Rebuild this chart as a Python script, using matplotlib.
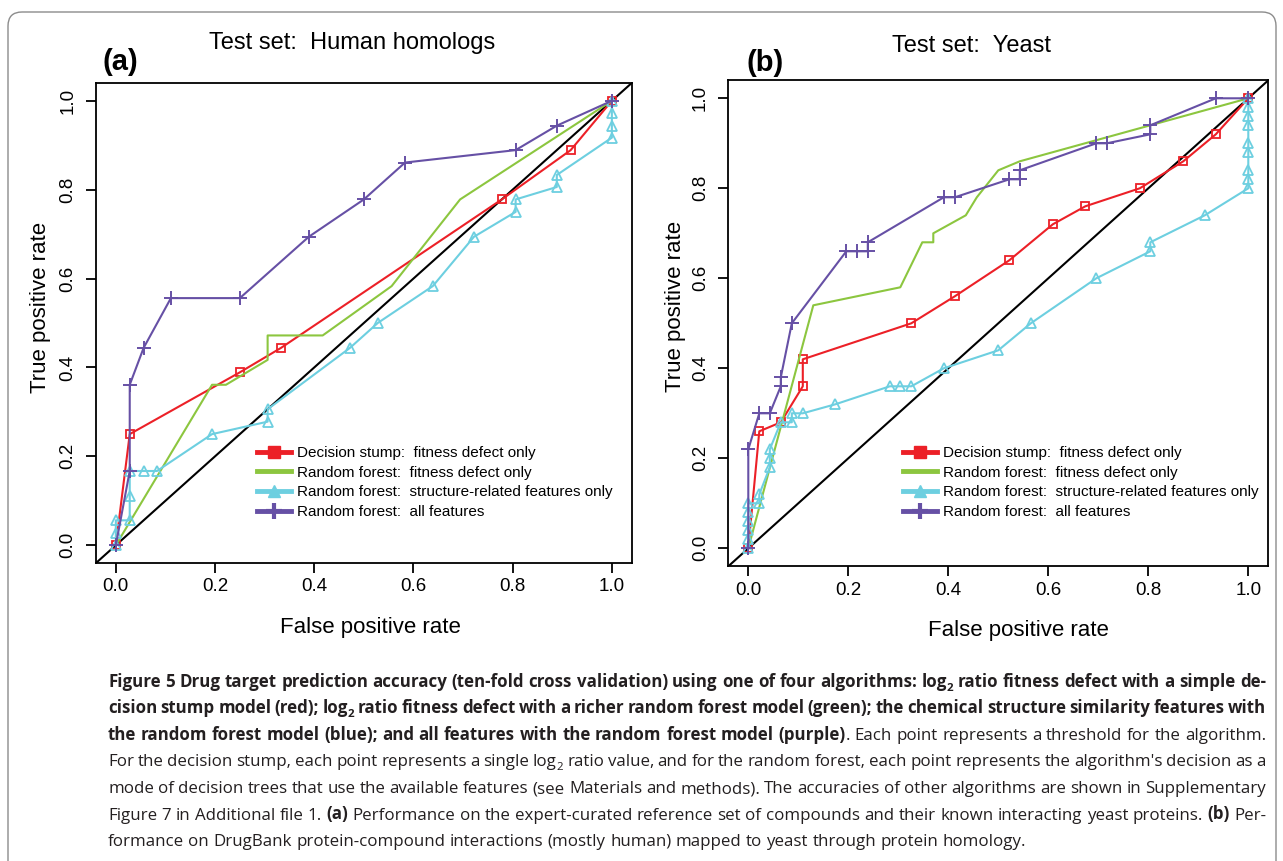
import matplotlib
matplotlib.use('Agg')
import matplotlib.pyplot as plt
from matplotlib.lines import Line2D
from matplotlib.patches import FancyBboxPatch
from matplotlib.transforms import IdentityTransform

plt.rcParams['font.family'] = ['Liberation Sans', 'DejaVu Sans']

W, H = 1283, 861

# ---- panel (a): human homologs (ROC points)
a_red_x = [0, 0.028, 0.250, 0.333, 0.778, 0.917, 1.0]
a_red_y = [0, 0.250, 0.389, 0.444, 0.778, 0.889, 1.0]
a_green_x = [0, 0.194, 0.222, 0.306, 0.306, 0.417, 0.556, 0.694, 1.0]
a_green_y = [0, 0.361, 0.361, 0.417, 0.472, 0.472, 0.583, 0.778, 1.0]
a_cyan_x = [0, 0, 0, 0.028, 0.028, 0.028, 0.056, 0.083, 0.194, 0.306, 0.306, 0.472,
            0.528, 0.639, 0.722, 0.806, 0.806, 0.889, 0.889, 1, 1, 1, 1]
a_cyan_y = [0, 0.028, 0.056, 0.056, 0.111, 0.167, 0.167, 0.167, 0.250, 0.278, 0.306, 0.444,
            0.500, 0.583, 0.694, 0.750, 0.778, 0.806, 0.833, 0.917, 0.944, 0.972, 1.0]
a_purple_x = [0, 0.028, 0.028, 0.056, 0.111, 0.250, 0.389, 0.500, 0.583, 0.806, 0.889, 1.0]
a_purple_y = [0, 0.167, 0.361, 0.444, 0.556, 0.556, 0.694, 0.778, 0.861, 0.889, 0.944, 1.0]

# ---- panel (b): yeast
b_red_x = [0, 0.022, 0.065, 0.109, 0.109, 0.326, 0.413, 0.522, 0.609, 0.674, 0.783, 0.870, 0.935, 1.0]
b_red_y = [0, 0.26, 0.28, 0.36, 0.42, 0.50, 0.56, 0.64, 0.72, 0.76, 0.80, 0.86, 0.92, 1.0]
b_green_x = [0, 0.130, 0.304, 0.348, 0.370, 0.370, 0.435, 0.457, 0.500, 0.543, 0.804, 1.0]
b_green_y = [0, 0.54, 0.58, 0.68, 0.68, 0.70, 0.74, 0.78, 0.84, 0.86, 0.94, 1.0]
b_cyan_x = [0, 0, 0, 0, 0, 0, 0.022, 0.022, 0.043, 0.043, 0.043, 0.065, 0.087, 0.087, 0.109,
            0.174, 0.283, 0.304, 0.326, 0.391, 0.500, 0.565, 0.696, 0.804, 0.804, 0.913,
            1, 1, 1, 1, 1, 1, 1, 1, 1]
b_cyan_y = [0, 0.02, 0.04, 0.06, 0.08, 0.10, 0.10, 0.12, 0.18, 0.20, 0.22, 0.28, 0.28, 0.30, 0.30,
            0.32, 0.36, 0.36, 0.36, 0.40, 0.44, 0.50, 0.60, 0.66, 0.68, 0.74,
            0.80, 0.82, 0.84, 0.88, 0.90, 0.94, 0.96, 0.98, 1.0]
b_purple_x = [0, 0, 0.022, 0.043, 0.065, 0.065, 0.087, 0.196, 0.217, 0.239, 0.239, 0.391,
              0.413, 0.522, 0.543, 0.543, 0.696, 0.717, 0.804, 0.804, 0.935, 1.0]
b_purple_y = [0, 0.22, 0.30, 0.30, 0.36, 0.38, 0.50, 0.66, 0.66, 0.66, 0.68, 0.78,
              0.78, 0.82, 0.82, 0.84, 0.90, 0.90, 0.92, 0.94, 1.0, 1.0]

ticks = [0.0, 0.2, 0.4, 0.6, 0.8, 1.0]
tick_labels = ['0.0', '0.2', '0.4', '0.6', '0.8', '1.0']
legend_labels = ['Decision stump:  fitness defect only',
                 'Random forest:  fitness defect only',
                 'Random forest:  structure-related features only',
                 'Random forest:  all features']

RED = '#ec2027'
GREEN = '#8cc63f'
CYAN = '#6dcfe0'
PURPLE = '#6650a5'


def fx(px):
    return px / W


def fy(py):
    return 1 - py / H


fig = plt.figure(figsize=(W / 100, H / 100), dpi=100)

# rounded frame around the figure
frame = FancyBboxPatch((8, -40), 1268, H - 12 + 40, boxstyle='round,pad=0,rounding_size=14',
                       transform=IdentityTransform(), fill=False, ec='#8c8c8c', lw=1.0)
fig.add_artist(frame)


def panel(rect, red, green, cyan, purple, leg_xy, xlab_xy, ylab_xy):
    ax = fig.add_axes(rect)
    ax.axline((0, 0), (1, 1), color='black', lw=1.5)
    ax.plot(red[0], red[1], color=RED, lw=1.5, marker='s', ms=5.8, mfc='none', mew=1.3)
    ax.plot(green[0], green[1], color=GREEN, lw=1.5)
    ax.plot(cyan[0], cyan[1], color=CYAN, lw=1.5, marker='^', ms=7, mfc='none', mew=1.3)
    ax.plot(purple[0], purple[1], color=PURPLE, lw=1.5, marker='+', ms=10, mew=1.4)
    ax.set_xlim(-0.04, 1.04)
    ax.set_ylim(-0.04, 1.04)
    ax.set_xticks(ticks, tick_labels)
    ax.set_yticks(ticks, tick_labels)
    for s in ax.spines.values():
        s.set_linewidth(1.3)
    ax.tick_params(direction='out', length=7, width=1.3, labelsize=13.5)
    ax.tick_params(axis='x', pad=4)
    ax.tick_params(axis='y', pad=7)
    for lab in ax.get_yticklabels():
        lab.set_rotation(90)
        lab.set_va('center')
    ax.set_xlabel('False positive rate', fontsize=16)
    ax.xaxis.label.set_va('center')
    ax.xaxis.set_label_coords(*xlab_xy)
    ax.set_ylabel('True positive rate', fontsize=16)
    ax.yaxis.label.set_va('center')
    ax.yaxis.set_label_coords(*ylab_xy)

    handles = [
        Line2D([], [], color=RED, lw=3.5, marker='s', ms=8),
        Line2D([], [], color=GREEN, lw=3.5),
        Line2D([], [], color=CYAN, lw=3.5, marker='^', ms=9),
        Line2D([], [], color=PURPLE, lw=3.5, marker='+', ms=12, mew=3),
    ]
    ax.legend(handles, legend_labels, loc='upper left', bbox_to_anchor=(fx(leg_xy[0]), fy(leg_xy[1])),
              bbox_transform=fig.transFigure, frameon=False, fontsize=11, borderpad=0,
              borderaxespad=0, handlelength=2.2, handletextpad=0.45, labelspacing=0.37)
    return ax


ax_a = panel([fx(96), fy(563), (631.7 - 96) / W, (563 - 83) / H],
             (a_red_x, a_red_y), (a_green_x, a_green_y), (a_cyan_x, a_cyan_y),
             (a_purple_x, a_purple_y), (257, 446), (0.513, -0.135), (-0.1045, 0.533))
ax_b = panel([fx(728.3), fy(566.3), 540 / W, 486 / H],
             (b_red_x, b_red_y), (b_green_x, b_green_y), (b_cyan_x, b_cyan_y),
             (b_purple_x, b_purple_y), (903, 446), (0.538, -0.133), (-0.0987, 0.5356))

fig.text(fx(352), fy(43), 'Test set:  Human homologs', ha='center', va='center', fontsize=17)
fig.text(fx(971), fy(46), 'Test set:  Yeast', ha='center', va='center', fontsize=17)
fig.text(fx(120), fy(62), '(a)', ha='center', va='center', fontsize=21, fontweight='bold')
fig.text(fx(765), fy(63), '(b)', ha='center', va='center', fontsize=21, fontweight='bold')

# ---- caption, justified word by word
CAP_FONT = ['Open Sans', 'DejaVu Sans']
CAP_COLOR = '#231f20'
caption = [
    [("Figure 5 Drug target prediction accuracy (ten-fold cross validation) using one of four algorithms: log", 'b'),
     ("2", 'bs'), (" ratio fitness defect with a simple de-", 'b')],
    [("cision stump model (red); log", 'b'), ("2", 'bs'),
     (" ratio fitness defect with a richer random forest model (green); the chemical structure similarity features with", 'b')],
    [("the random forest model (blue); and all features with the random forest model (purple)", 'b'),
     (". Each point represents a threshold for the algorithm.", 'n')],
    [("For the decision stump, each point represents a single log", 'n'), ("2", 'ns'),
     (" ratio value, and for the random forest, each point represents the algorithm's decision as a", 'n')],
    [("mode of decision trees that use the available features (see Materials and methods). The accuracies of other algorithms are shown in Supplementary", 'n')],
    [("Figure 7 in Additional file 1. ", 'n'), ("(a)", 'b'),
     (" Performance on the expert-curated reference set of compounds and their known interacting yeast proteins. ", 'n'),
     ("(b)", 'b'), (" Per-", 'n')],
    [("formance on DrugBank protein-compound interactions (mostly human) mapped to yeast through protein homology.", 'n')],
]
baselines = [687, 713, 740, 766.5, 793, 819.5, 846]
cap_left, cap_right = 108, 1266

renderer = fig.canvas.get_renderer()


def words_of(segs):
    words = [[]]
    for text, st in segs:
        parts = text.split(' ')
        for i, p in enumerate(parts):
            if i > 0:
                words.append([])
            if p:
                words[-1].append((p, st))
    return [w for w in words if w]


def piece_kw(st, fs):
    kw = dict(family=CAP_FONT, color=CAP_COLOR, fontsize=fs,
              fontweight='bold' if st.startswith('b') else 'normal')
    if st.endswith('s'):
        kw['fontsize'] = fs * 0.68
    return kw


def width(text, kw):
    t = fig.text(0, 0, text, **kw)
    w = t.get_window_extent(renderer).width
    t.remove()
    return w


# pick the caption size so the widest line just fills the text block
fs = 14.0
line_words = [words_of(segs) for segs in caption]
space_w = width('a a', piece_kw('n', fs)) - width('aa', piece_kw('n', fs))
natural = []
for ws in line_words[:-1]:
    tot = sum(width(p, piece_kw(st, fs)) for w in ws for p, st in w)
    natural.append(tot + space_w * 0.8 * (len(ws) - 1))
fs = fs * (cap_right - cap_left) / max(natural)
space_w = width('a a', piece_kw('n', fs)) - width('aa', piece_kw('n', fs))

for li, ws in enumerate(line_words):
    widths = [[width(p, piece_kw(st, fs)) for p, st in w] for w in ws]
    tot = sum(sum(w) for w in widths)
    if li < len(line_words) - 1:
        gap = (cap_right - cap_left - tot) / (len(ws) - 1)
    else:
        gap = space_w
    x = cap_left
    for w, pw in zip(ws, widths):
        for (p, st), wpx in zip(w, pw):
            y = baselines[li] + (4 if st.endswith('s') else 0)
            fig.text(fx(x), fy(y), p, va='baseline', ha='left', **piece_kw(st, fs))
            x += wpx
        x += gap

fig.savefig('out.png', dpi=100)
